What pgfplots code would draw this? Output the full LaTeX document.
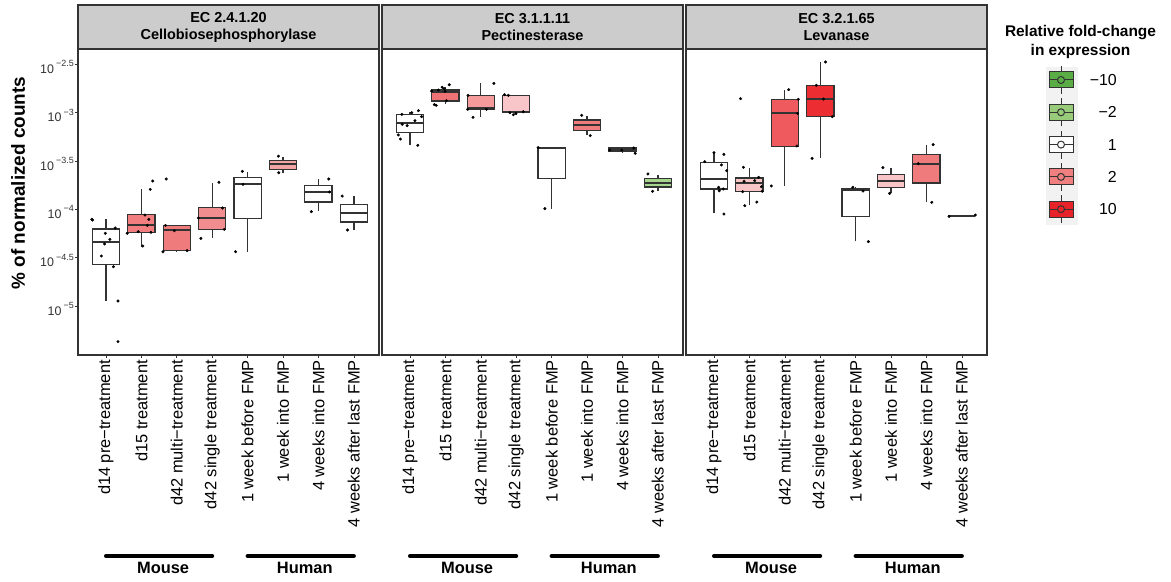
\documentclass[border=0pt]{standalone}
\usepackage{pgfplots}
\pgfplotsset{compat=1.18}
\usepackage{fontspec}
\setmainfont{Liberation Sans}

\definecolor{bord}{HTML}{333333}
\definecolor{stripgray}{HTML}{CCCCCC}
\definecolor{legbg}{HTML}{F2F2F2}
\definecolor{gA}{HTML}{5AAC44}
\definecolor{gB}{HTML}{98CC7A}
\definecolor{rB}{HTML}{F08080}
\definecolor{rA}{HTML}{E82229}
% panel 1
\definecolor{c12}{HTML}{F27E80}
\definecolor{c13}{HTML}{F07B7D}
\definecolor{c14}{HTML}{F28D8F}
\definecolor{c16}{HTML}{F4A3A5}
% panel 2
\definecolor{c22}{HTML}{EF7275}
\definecolor{c23}{HTML}{F59B9C}
\definecolor{c24}{HTML}{F8C6C8}
\definecolor{c26}{HTML}{F07C7E}
\definecolor{c27}{HTML}{F4A0A2}
\definecolor{c28}{HTML}{A6D68E}
% panel 3
\definecolor{c32}{HTML}{F9C6C8}
\definecolor{c33}{HTML}{EE5A5D}
\definecolor{c34}{HTML}{EC2E33}
\definecolor{c36}{HTML}{F9C6C8}
\definecolor{c37}{HTML}{F07B7D}

\def\ymn{-5.506}
\def\ymx{-2.345}

% box: position, lower whisker, lower quartile, median, upper quartile, upper whisker, fill
\newcommand\bxplot[7]{%
  \pgfmathsetmacro\xl{#1-0.385}%
  \pgfmathsetmacro\xr{#1+0.385}%
  \edef\doit{%
    \noexpand\addplot[draw=bord, line width=1.3bp] coordinates {(#1,#2) (#1,#3)};
    \noexpand\addplot[draw=bord, line width=1.3bp] coordinates {(#1,#5) (#1,#6)};
    \noexpand\addplot[draw=bord, line width=1.3bp, fill=#7] coordinates {(\xl,#3) (\xr,#3) (\xr,#5) (\xl,#5)} -- cycle;
    \noexpand\addplot[draw=bord, line width=2.2bp] coordinates {(\xl,#4) (\xr,#4)};
  }\doit}
\newcommand\tl[1]{10\,\raisebox{6.5bp}{\fontsize{9}{9}\selectfont #1}}

\pgfplotsset{
  panel/.style={
    scale only axis, width=301bp, height=306bp,
    xmin=0.21, xmax=8.71, ymin=\ymn, ymax=\ymx,
    clip=false,
    axis line style={line width=2.2bp, draw=bord},
    tick align=outside, major tick length=3bp,
    every tick/.style={bord, line width=0.6bp},
    xtick pos=bottom, ytick pos=left,
    xtick={1,...,8},
    xticklabels={d14 pre−treatment, d15 treatment, d42 multi−treatment, d42 single treatment, 1 week before FMP, 1 week into FMP, 4 weeks into FMP, 4 weeks after last FMP},
    xticklabel style={rotate=90, anchor=east, inner sep=2bp, font=\fontsize{16.5}{16.5}\selectfont, text=black},
    anchor=south west,
  },
}

\newcommand\decor[2]{%
  \draw[fill=stripgray, draw=bord, line width=2.2bp] (rel axis cs:0,1) rectangle ([yshift=44bp]rel axis cs:1,1);
  \node[align=center, font=\bfseries\fontsize{14.5}{17}\selectfont] at ([yshift=22bp]rel axis cs:0.5,1) {#1\\#2};
  \draw[line width=4bp, line cap=round] ([yshift=-201bp]axis cs:1,\ymn) -- ([yshift=-201bp]axis cs:4,\ymn);
  \draw[line width=4bp, line cap=round] ([yshift=-201bp]axis cs:5,\ymn) -- ([yshift=-201bp]axis cs:8,\ymn);
  \node[font=\bfseries\fontsize{16.5}{16.5}\selectfont] at ([yshift=-213bp,xshift=4bp]axis cs:2.5,\ymn) {Mouse};
  \node[font=\bfseries\fontsize{16.5}{16.5}\selectfont] at ([yshift=-213bp,xshift=4bp]axis cs:6.5,\ymn) {Human};
}

\begin{document}
\begin{tikzpicture}
\useasboundingbox (0,0) rectangle (1171bp,582bp);

% ---------------- Panel 1 ----------------
\begin{axis}[panel, at={(78bp,227bp)},
  ytick={-5,-4.5,-4,-3.5,-3,-2.5},
  yticklabels={\tl{−5},\tl{−4.5},\tl{−4},\tl{−3.5},\tl{−3},\tl{−2.5}},
  yticklabel style={font=\fontsize{12.5}{12.5}\selectfont, text=bord, inner sep=1bp, yshift=-3bp},
]
\bxplot{1}{-4.948}{-4.570}{-4.335}{-4.205}{-4.105}{white}
\bxplot{2}{-4.387}{-4.239}{-4.167}{-4.056}{-3.795}{c12}
\bxplot{3}{-4.439}{-4.428}{-4.218}{-4.167}{-4.167}{c13}
\bxplot{4}{-4.298}{-4.208}{-4.091}{-3.981}{-3.726}{c14}
\bxplot{5}{-4.439}{-4.098}{-3.743}{-3.674}{-3.612}{white}
\bxplot{6}{-3.623}{-3.588}{-3.533}{-3.499}{-3.457}{c16}
\bxplot{7}{-4.022}{-3.926}{-3.822}{-3.753}{-3.691}{white}
\bxplot{8}{-4.215}{-4.132}{-4.039}{-3.953}{-3.864}{white}
\addplot[only marks, mark=*, mark size=1.3bp, black] coordinates {
(0.60,-4.105) (0.62,-4.112) (0.98,-4.249) (1.11,-4.311) (1.26,-4.194) (0.96,-4.359) (0.87,-4.483) (1.21,-4.594) (1.34,-4.948) (1.34,-5.368)
(1.60,-4.249) (1.91,-4.232) (2.04,-4.380) (2.10,-4.060) (2.17,-4.167) (2.21,-4.105) (2.25,-3.795) (2.27,-4.239) (2.32,-3.709)
(2.61,-4.439) (2.93,-4.222) (3.29,-4.428) (2.70,-3.688) (2.68,-4.167)
(3.68,-4.301) (3.61,-4.091) (4.29,-3.988) (4.34,-4.208) (4.19,-3.722)
(4.66,-4.439) (4.87,-3.743) (4.85,-3.609)
(5.87,-3.452) (5.88,-3.623)
(6.80,-4.025) (7.29,-3.688) (7.31,-3.822)
(7.67,-3.864) (7.82,-4.215)
};
\decor{EC 2.4.1.20}{Cellobiosephosphorylase}
\end{axis}

% ---------------- Panel 2 ----------------
\begin{axis}[panel, at={(382bp,227bp)}, ytick=\empty]
\bxplot{1}{-3.340}{-3.206}{-3.106}{-3.024}{-2.996}{white}
\bxplot{2}{-2.913}{-2.882}{-2.789}{-2.769}{-2.734}{c22}
\bxplot{3}{-3.044}{-2.968}{-2.955}{-2.824}{-2.700}{c23}
\bxplot{4}{-3.024}{-3.003}{-2.996}{-2.824}{-2.817}{c24}
\bxplot{5}{-3.994}{-3.685}{-3.364}{-3.364}{-3.364}{white}
\bxplot{6}{-3.237}{-3.189}{-3.134}{-3.079}{-3.037}{c26}
\bxplot{7}{-3.423}{-3.402}{-3.385}{-3.368}{-3.368}{c27}
\bxplot{8}{-3.809}{-3.771}{-3.726}{-3.685}{-3.643}{c28}
\addplot[only marks, mark=*, mark size=1.3bp, black] coordinates {
(0.77,-3.020) (1.05,-3.003) (1.24,-2.982) (1.33,-3.044) (1.14,-3.086) (0.78,-3.123) (0.92,-3.137) (0.67,-3.233) (0.73,-3.275) (1.22,-3.340)
(1.61,-2.779) (1.80,-2.769) (1.97,-2.755) (2.11,-2.714) (1.99,-2.782) (1.69,-2.920) (1.74,-2.927) (2.03,-2.879) (1.91,-2.741)
(3.37,-2.700) (2.63,-2.968) (3.16,-2.968) (2.78,-3.051) (2.64,-2.824)
(3.67,-2.817) (3.78,-2.824) (3.82,-3.003) (3.92,-3.024) (3.99,-3.010) (4.20,-2.993)
(4.62,-3.364) (4.81,-3.994)
(5.85,-3.030) (6.09,-3.240)
(6.64,-3.389) (6.98,-3.390) (7.32,-3.368) (7.36,-3.423)
(7.72,-3.636) (7.85,-3.815)
};
\decor{EC 3.1.1.11}{Pectinesterase}
\end{axis}

% ---------------- Panel 3 ----------------
\begin{axis}[panel, at={(686bp,227bp)}, ytick=\empty]
\bxplot{1}{-4.043}{-3.791}{-3.688}{-3.516}{-3.416}{white}
\bxplot{2}{-3.960}{-3.815}{-3.733}{-3.678}{-3.571}{c32}
\bxplot{3}{-3.760}{-3.351}{-3.010}{-2.868}{-2.765}{c33}
\bxplot{4}{-3.471}{-3.044}{-2.862}{-2.720}{-2.479}{c34}
\bxplot{5}{-4.332}{-4.077}{-3.802}{-3.791}{-3.774}{white}
\bxplot{6}{-3.836}{-3.774}{-3.705}{-3.640}{-3.578}{c36}
\bxplot{7}{-3.926}{-3.729}{-3.530}{-3.433}{-3.340}{c37}
\bxplot{8}{-4.067}{-4.067}{-4.067}{-4.067}{-4.067}{white}
\addplot[only marks, mark=*, mark size=1.3bp, black] coordinates {
(0.74,-3.509) (1.00,-3.416) (1.28,-3.433) (1.21,-3.543) (1.36,-3.602) (1.13,-3.774) (1.15,-3.809) (1.26,-3.791) (1.28,-4.050)
(1.75,-2.858) (1.83,-3.567) (1.85,-3.712) (2.15,-3.705) (2.26,-3.671) (2.34,-3.767) (2.36,-3.815) (1.81,-3.819) (1.87,-3.963) (2.21,-3.926)
(2.62,-3.760) (3.11,-2.765) (3.38,-2.865) (3.36,-3.010) (3.34,-3.347)
(4.15,-2.479) (3.89,-2.720) (4.09,-2.862) (4.34,-3.044) (3.77,-3.475)
(4.92,-3.774) (5.21,-3.812) (5.36,-4.335)
(5.77,-3.571) (5.96,-3.836)
(7.19,-3.333) (6.77,-3.530) (7.15,-3.929)
(7.64,-4.074) (8.38,-4.060)
};
\decor{EC 3.2.1.65}{Levanase}
\end{axis}

% y label
\node[rotate=90, font=\bfseries\fontsize{19}{19}\selectfont] at (18bp,399bp) {\% of normalized counts};

% legend
\node[align=center, font=\bfseries\fontsize{15.5}{19.4}\selectfont] at (1080.5bp,540bp) {Relative fold-change\\in expression};
\fill[legbg] (1046bp,357bp) rectangle (1078bp,515bp);
\foreach \c/\lab [count=\i from 0] in {gA/−10, gB/−2, white/1, rB/2, rA/10}{
  \pgfmathsetmacro\cy{582-80-32.3*\i}
  \draw[bord, line width=1bp] (1061bp,\cy bp-14bp) -- (1061bp,\cy bp+14bp);
  \draw[bord, line width=1bp, fill=\c] (1049bp,\cy bp-8bp) rectangle (1073bp,\cy bp+8bp);
  \draw[bord, line width=1bp] (1049bp,\cy bp) -- (1073bp,\cy bp);
  \draw[bord, line width=1bp, fill=\c] (1061bp,\cy bp) circle (3.5bp);
  \node[anchor=east, font=\fontsize{16}{16}\selectfont, inner sep=0pt] at (1117bp,\cy bp) {\lab};
}
\end{tikzpicture}
\end{document}
